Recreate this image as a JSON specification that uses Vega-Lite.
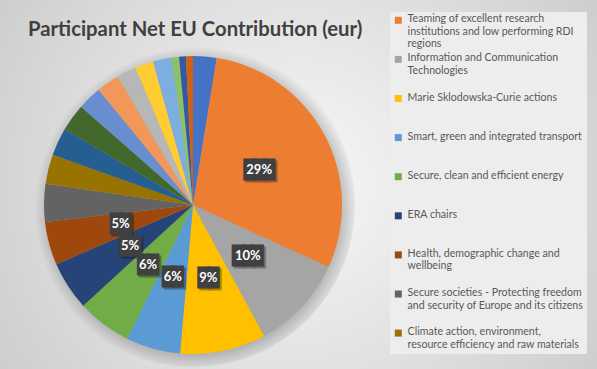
{
  "$schema": "https://vega.github.io/schema/vega-lite/v6.json",
  "width": 298,
  "height": 298,
  "autosize": {"type": "none"},
  "padding": {"left": 44, "top": 56, "right": 255, "bottom": 15},
  "background": "#DEDEDE",
  "title": {
    "text": "Participant Net EU Contribution (eur)",
    "anchor": "start",
    "frame": "group",
    "font": "Lato",
    "fontSize": 20.3,
    "fontWeight": "bold",
    "color": "#404040",
    "baseline": "alphabetic",
    "dx": -16,
    "offset": -321
  },
  "data": {
    "values": [
      {"rank": 1, "name": "Other programme 1", "value": 0.0255},
      {"rank": 2, "name": "Teaming of excellent research institutions and low performing RDI regions", "value": 0.293},
      {"rank": 3, "name": "Information and Communication Technologies", "value": 0.1025},
      {"rank": 4, "name": "Marie Sklodowska-Curie actions", "value": 0.093},
      {"rank": 5, "name": "Smart, green and integrated transport", "value": 0.059},
      {"rank": 6, "name": "Secure, clean and efficient energy", "value": 0.059},
      {"rank": 7, "name": "ERA chairs", "value": 0.053},
      {"rank": 8, "name": "Health, demographic change and wellbeing", "value": 0.047},
      {"rank": 9, "name": "Secure societies - Protecting freedom and security of Europe and its citizens", "value": 0.041},
      {"rank": 10, "name": "Climate action, environment, resource efficiency and raw materials", "value": 0.032},
      {"rank": 11, "name": "Other programme 2", "value": 0.030},
      {"rank": 12, "name": "Other programme 3", "value": 0.030},
      {"rank": 13, "name": "Other programme 4", "value": 0.026},
      {"rank": 14, "name": "Other programme 5", "value": 0.025},
      {"rank": 15, "name": "Other programme 6", "value": 0.021},
      {"rank": 16, "name": "Other programme 7", "value": 0.020},
      {"rank": 17, "name": "Other programme 8", "value": 0.020},
      {"rank": 18, "name": "Other programme 9", "value": 0.0083},
      {"rank": 19, "name": "Other programme 10", "value": 0.0075},
      {"rank": 20, "name": "Other programme 11", "value": 0.0075}
    ]
  },
  "layer": [
    {
      "mark": {
        "type": "arc",
        "radius": 470,
        "fill": {
          "gradient": "radial",
          "x1": 0.612, "y1": 0.478, "r1": 0,
          "x2": 0.612, "y2": 0.478, "r2": 0.38,
          "stops": [
            {"offset": 0, "color": "#F8F8F8"},
            {"offset": 1, "color": "#CDCDCD"}
          ]
        }
      },
      "encoding": {
        "theta": {"aggregate": "sum", "field": "value", "type": "quantitative", "stack": true}
      }
    },
    {
      "mark": {
        "type": "arc",
        "radius": 162,
        "fill": {
          "gradient": "radial",
          "x1": 0.512, "y1": 0.512, "r1": 0,
          "x2": 0.512, "y2": 0.512, "r2": 0.5,
          "stops": [
            {"offset": 0.86, "color": "rgba(0,0,0,0.28)"},
            {"offset": 1, "color": "rgba(0,0,0,0)"}
          ]
        }
      },
      "encoding": {
        "theta": {"aggregate": "sum", "field": "value", "type": "quantitative", "stack": true}
      }
    },
    {
      "mark": {"type": "arc", "radius": 149},
      "encoding": {
        "theta": {"field": "value", "type": "quantitative", "stack": true},
        "order": {"field": "rank", "type": "quantitative"},
        "color": {
          "field": "name",
          "type": "nominal",
          "sort": null,
          "scale": {
            "domain": [
              "Other programme 1",
              "Teaming of excellent research institutions and low performing RDI regions",
              "Information and Communication Technologies",
              "Marie Sklodowska-Curie actions",
              "Smart, green and integrated transport",
              "Secure, clean and efficient energy",
              "ERA chairs",
              "Health, demographic change and wellbeing",
              "Secure societies - Protecting freedom and security of Europe and its citizens",
              "Climate action, environment, resource efficiency and raw materials",
              "Other programme 2", "Other programme 3", "Other programme 4", "Other programme 5",
              "Other programme 6", "Other programme 7", "Other programme 8", "Other programme 9",
              "Other programme 10", "Other programme 11"
            ],
            "range": [
              "#4472C4", "#ED7D31", "#A5A5A5", "#FFC000", "#5B9BD5", "#70AD47",
              "#264478", "#9E480E", "#636363", "#997300", "#255E91", "#43682B",
              "#698ED0", "#F1975A", "#B7B7B7", "#FFCD33", "#7CAFDD", "#8CC168",
              "#335AA1", "#D26012"
            ]
          },
          "legend": {
            "orient": "none",
            "legendX": 346,
            "legendY": -44,
            "title": null,
            "values": [
              "Teaming of excellent research institutions and low performing RDI regions",
              "Information and Communication Technologies",
              "Marie Sklodowska-Curie actions",
              "Smart, green and integrated transport",
              "Secure, clean and efficient energy",
              "ERA chairs",
              "Health, demographic change and wellbeing",
              "Secure societies - Protecting freedom and security of Europe and its citizens",
              "Climate action, environment, resource efficiency and raw materials"
            ],
            "direction": "vertical",
            "columns": 1,
            "symbolType": "square",
            "symbolSize": 49,
            "symbolStrokeWidth": 0,
            "labelFont": "Lato",
            "labelFontSize": 10.6,
            "labelColor": "#595959",
            "labelLimit": 400,
            "labelBaseline": "top",
            "labelLineHeight": 14,
            "labelOffset": 4,
            "gridAlign": "all",
            "rowPadding": 2.1,
            "padding": 3,
            "fillColor": "#EDEDED",
            "labelExpr": "datum.label == 'Teaming of excellent research institutions and low performing RDI regions' ? ['Teaming of excellent research', 'institutions and low performing RDI', 'regions'] : datum.label == 'Information and Communication Technologies' ? ['Information and Communication', 'Technologies'] : datum.label == 'Health, demographic change and wellbeing' ? ['Health, demographic change and', 'wellbeing'] : datum.label == 'Secure societies - Protecting freedom and security of Europe and its citizens' ? ['Secure societies - Protecting freedom', 'and security of Europe and its citizens'] : datum.label == 'Climate action, environment, resource efficiency and raw materials' ? ['Climate action, environment,', 'resource efficiency and raw materials'] : datum.label",
            "encode": {"labels": {"update": {"dy": {"value": -6}}}}
          }
        }
      }
    },
    {
      "mark": {"type": "text", "radius": 75, "font": "DejaVu Sans Mono", "fontSize": 16, "align": "center", "baseline": "middle", "dx": 2, "dy": 2, "color": "#000000", "opacity": 0.3, "stroke": "#000000", "strokeWidth": 3},
      "encoding": {
        "theta": {"field": "value", "type": "quantitative", "stack": true},
        "order": {"field": "rank", "type": "quantitative"},
        "text": {"condition": [{"test": "datum.value < 0.045", "value": ""}, {"test": "datum.value >= 0.095", "value": "███"}], "value": "██"}
      }
    },
    {
      "mark": {"type": "text", "radius": 75, "font": "DejaVu Sans Mono", "fontSize": 16, "align": "center", "baseline": "middle", "color": "#404040", "stroke": "#404040", "strokeWidth": 3},
      "encoding": {
        "theta": {"field": "value", "type": "quantitative", "stack": true},
        "order": {"field": "rank", "type": "quantitative"},
        "text": {"condition": [{"test": "datum.value < 0.045", "value": ""}, {"test": "datum.value >= 0.095", "value": "███"}], "value": "██"}
      }
    },
    {
      "mark": {"type": "text", "radius": 75, "font": "Lato", "fontSize": 13, "fontWeight": "bold", "align": "center", "baseline": "middle", "color": "#FFFFFF"},
      "encoding": {
        "theta": {"field": "value", "type": "quantitative", "stack": true},
        "order": {"field": "rank", "type": "quantitative"},
        "text": {"condition": {"test": "datum.value < 0.045", "value": ""}, "field": "value", "type": "quantitative", "format": ".0%"}
      }
    }
  ]
}
